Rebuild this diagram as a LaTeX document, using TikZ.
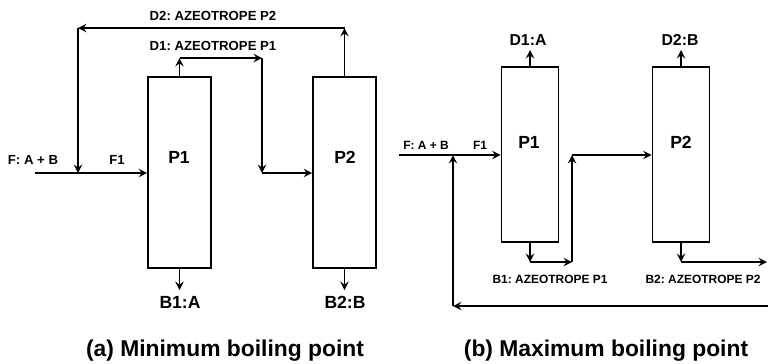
\documentclass[tikz,border=0pt]{standalone}
\usepackage{fontspec}
\setmainfont{Liberation Sans}
\usepackage{tikz}
\usetikzlibrary{arrows, positioning, calc}
\frenchspacing

\begin{document}
\begin{tikzpicture}[
    x=0.02cm, y=-0.02cm,
    column/.style={rectangle, draw, line width=1pt, minimum width=1.26cm, minimum height=3.82cm},
    columnb/.style={rectangle, draw, line width=1pt, minimum width=1.14cm, minimum height=3.5cm},
    arrow/.style={->, line width=1.1pt, >=stealth},
    colname/.style={font=\fontsize{10}{12}\selectfont\bfseries},
    flowlbl/.style={font=\fontsize{7.5}{9}\selectfont\bfseries, inner sep=1pt},
    smallfl/.style={font=\fontsize{6.8}{8}\selectfont\bfseries, inner sep=1pt},
    endlbl/.style={font=\fontsize{10}{12}\selectfont\bfseries, inner sep=1pt},
    captxt/.style={font=\fontsize{13}{15}\selectfont\bfseries}
]
\useasboundingbox (0,0) rectangle (768,363);

% (a) Minimum boiling point
\node (p1a) [column] at (179.5,172.5) {};
\node (p2a) [column] at (344.5,172.5) {};
\node (p1a-name) [colname] at (179,157) {P1};
\node (p2a-name) [colname] at (345,157) {P2};

\coordinate (fa) at (35,173);
\coordinate (ja) at (78,173);
\coordinate (d1a) at (179.5,58);
\coordinate (d1b) at (262,58);
\coordinate (d1c) at (262,173);
\coordinate (d2a) at (344.5,28);
\coordinate (d2b) at (78,28);
\coordinate (b1a) at (179.5,290);
\coordinate (b2a) at (344.5,290);

\draw[arrow] (fa) -- (fa -| p1a.west);
\draw[arrow] (p1a.north) -- (d1a);
\draw[arrow] (d1a) -- (d1b);
\draw[arrow] (d1b) -- (d1c);
\draw[arrow] (d1c) -- (d1c -| p2a.west);
\draw[arrow] (p2a.north) -- (d2a);
\draw[arrow] (d2a) -- (d2b);
\draw[arrow] (d2b) -- (ja);
\draw[arrow] (p1a.south) -- (b1a);
\draw[arrow] (p2a.south) -- (b2a);

\node (fa-lbl) [flowlbl] at (33,160) {F: A + B};
\node (f1a-lbl) [flowlbl] at (117,160) {F1};
\node (d1a-lbl) [flowlbl] at (213,46) {D1: AZEOTROPE P1};
\node (d2a-lbl) [flowlbl] at (213,16) {D2: AZEOTROPE P2};
\node (b1a-lbl) [endlbl] at (180,302) {B1:A};
\node (b2a-lbl) [endlbl] at (345,302) {B2:B};
\node (capa) [captxt] at (225,351) {(a) Minimum boiling point};

% (b) Maximum boiling point
\node (p1b) [columnb] at (530,154.5) {};
\node (p2b) [columnb] at (681,154.5) {};
\node (p1b-name) [colname] at (529,142) {P1};
\node (p2b-name) [colname] at (681,142) {P2};

\coordinate (fb) at (399,155);
\coordinate (jb) at (453,155);
\coordinate (d1bt) at (530,50);
\coordinate (d2bt) at (681,50);
\coordinate (b1b) at (530,262);
\coordinate (b1c) at (572,262);
\coordinate (b1d) at (572,155);
\coordinate (b2b) at (681,262);
\coordinate (b2c) at (767,262);
\coordinate (rb) at (769,306);
\coordinate (rc) at (453,306);

\draw[arrow] (fb) -- (fb -| p1b.west);
\draw[arrow] (p1b.north) -- (d1bt);
\draw[arrow] (p2b.north) -- (d2bt);
\draw[arrow] (p1b.south) -- (b1b);
\draw[arrow] (b1b) -- (b1c);
\draw[arrow] (b1c) -- (b1d);
\draw[arrow] (b1d) -- (b1d -| p2b.west);
\draw[arrow] (p2b.south) -- (b2b);
\draw[arrow] (b2b) -- (b2c);
\draw[arrow] (rb) -- (rc);
\draw[arrow] (rc) -- (jb);

\node (fb-lbl) [smallfl] at (426,145) {F: A + B};
\node (f1b-lbl) [smallfl] at (480,145) {F1};
\node (d1b-lbl) [endlbl, font=\fontsize{9}{11}\selectfont\bfseries] at (528,40) {D1:A};
\node (d2b-lbl) [endlbl, font=\fontsize{9}{11}\selectfont\bfseries] at (680,40) {D2:B};
\node (b1b-lbl) [smallfl] at (550,279) {B1: AZEOTROPE P1};
\node (b2b-lbl) [smallfl] at (703,279) {B2: AZEOTROPE P2};
\node (capb) [captxt] at (606,351) {(b) Maximum boiling point};

\end{tikzpicture}
\end{document}
